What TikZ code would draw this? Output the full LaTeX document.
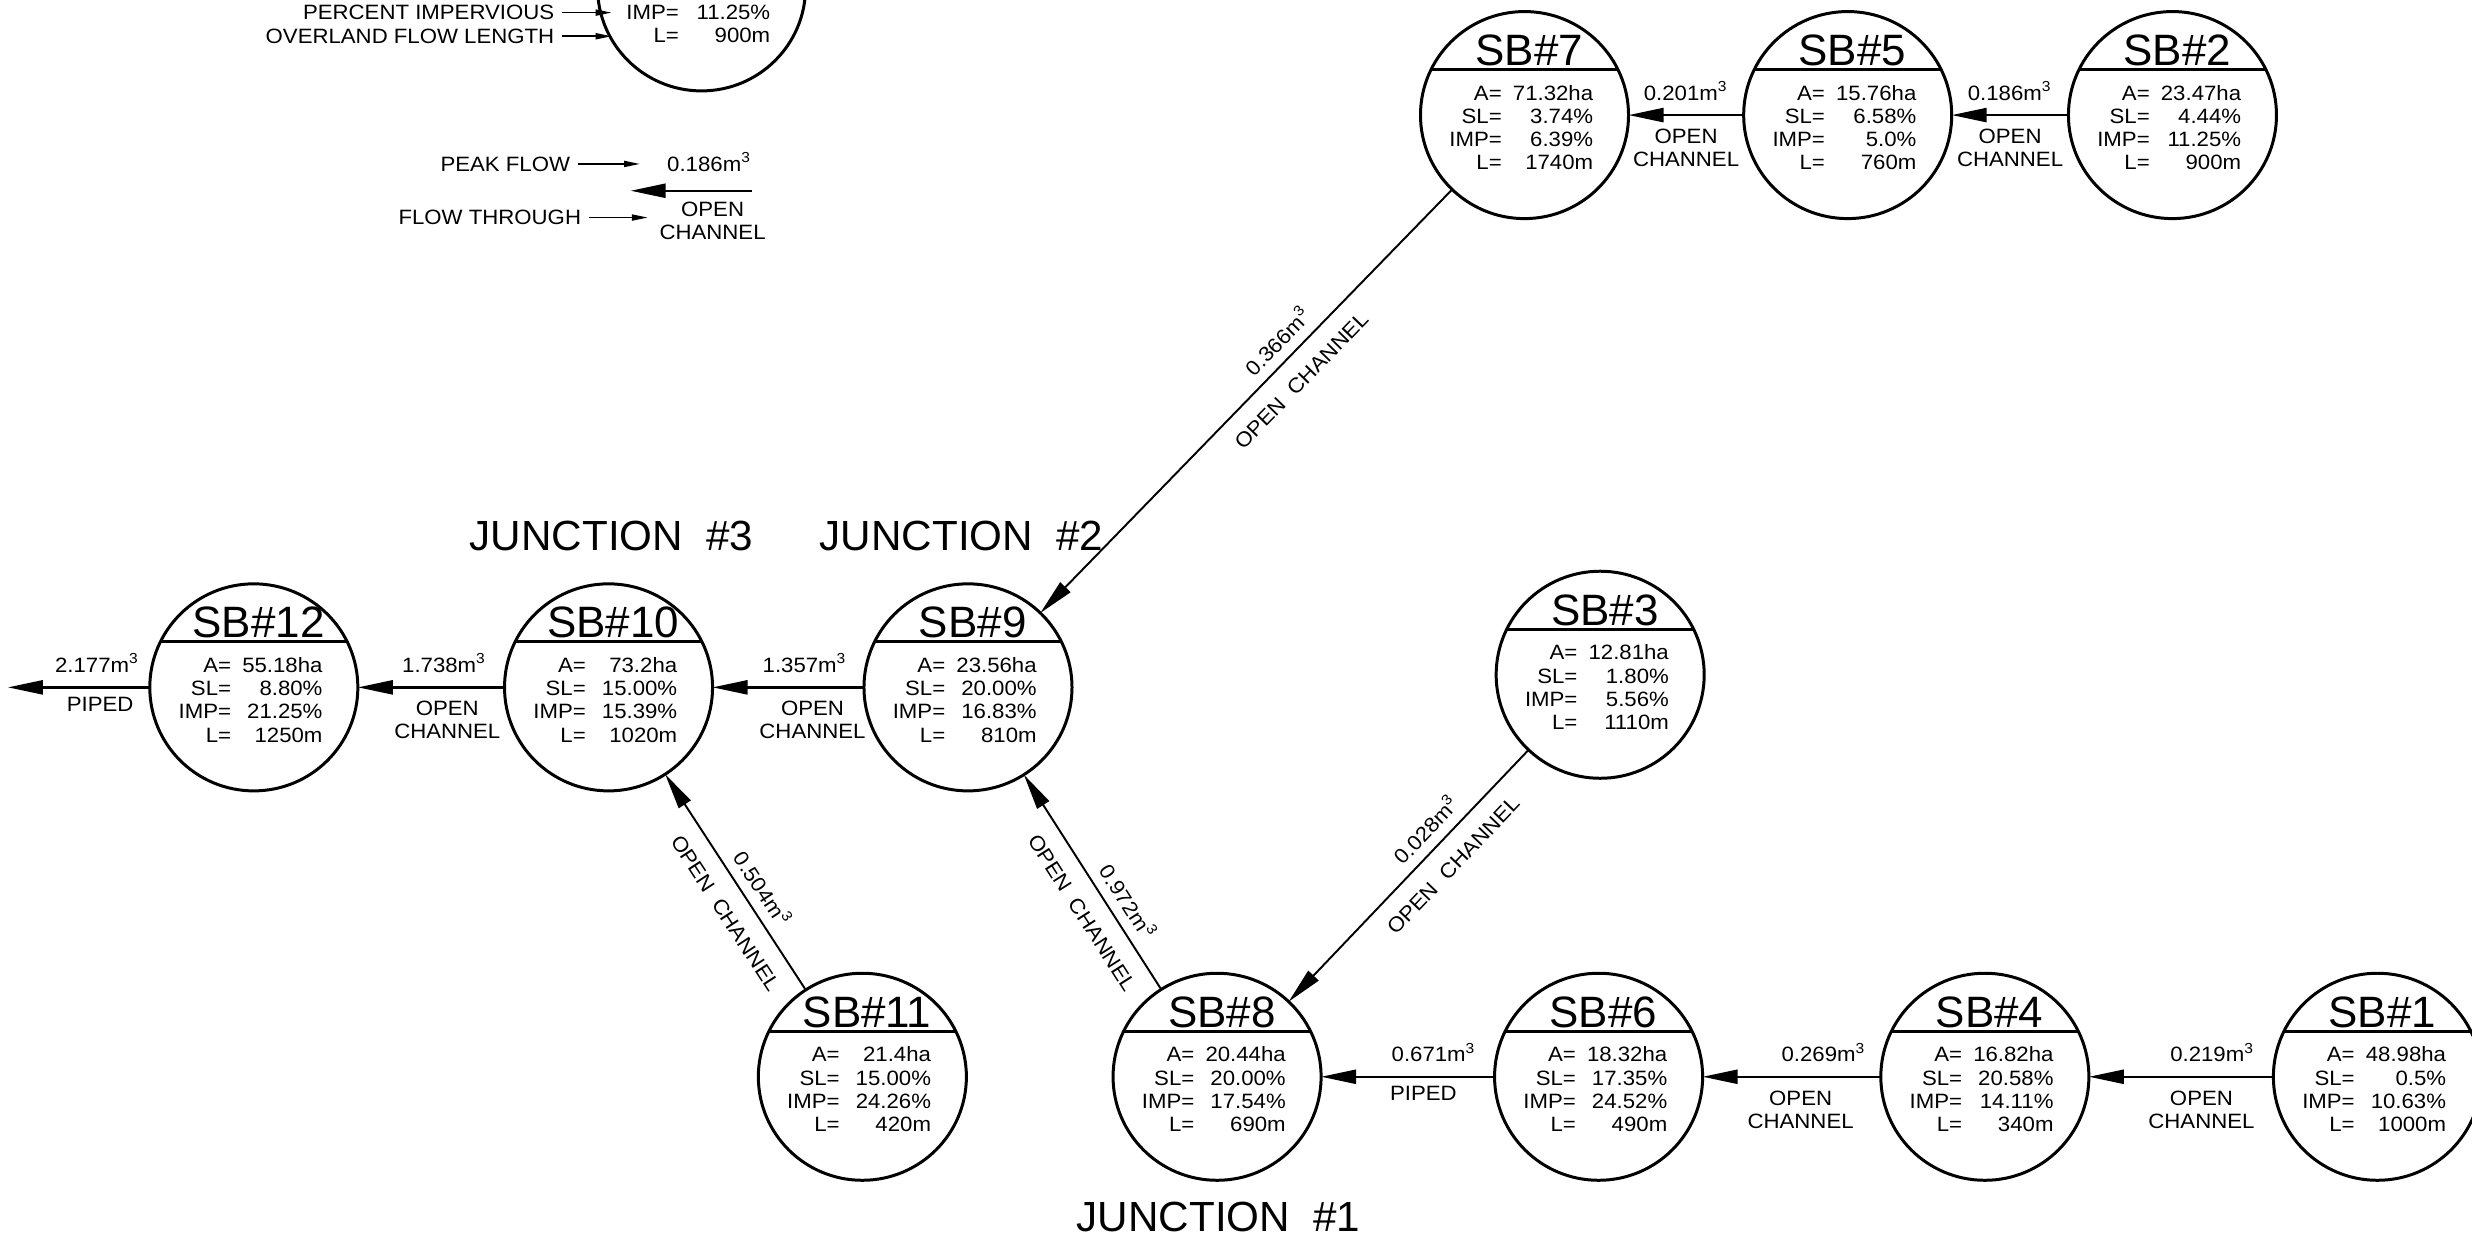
\documentclass[tikz,border=0pt]{standalone}
\usepackage{fontspec}
\setmainfont{Liberation Sans}
\newfontfamily\cadsmall{Liberation Sans}[FakeStretch=1.07]
\usetikzlibrary{arrows.meta,shapes.geometric}
\newcommand{\mcube}{\textsuperscript{3}}
\newcommand{\dval}[1]{\makebox[0.914cm][r]{#1}}
\newcommand{\sbnode}[8]{%
  \node[sb] (#1) at (#2,#3) {};
  \node[sbtitle] (#1-t) at ({#2+3},{#3-41}) {#4};
  \draw[divider] (#1.154) -- (#1.26);
  \node[sbdata] (#1-d) at ({#2+44},{#3+8}) {A=\dval{#5}\\SL=\dval{#6}\\IMP=\dval{#7}\\L=\dval{#8}};
}
\tikzset{
  sb/.style={draw, ellipse, minimum width=2.08cm, minimum height=2.07cm, inner sep=0pt, outer sep=0pt, line width=0.85pt},
  sbtitle/.style={inner sep=0pt, font=\fontsize{12.5}{14}\selectfont},
  sbdata/.style={inner sep=0pt, anchor=east, align=right, font=\cadsmall\fontsize{5.9}{6.6}\selectfont},
  divider/.style={line width=0.9pt},
  lbl/.style={inner sep=0pt, font=\cadsmall\fontsize{5.9}{6.6}\selectfont},
  junc/.style={inner sep=0pt, font=\fontsize{12}{14}\selectfont},
  flow/.style={line width=0.7pt, -{Triangle[length=3.5mm,width=1.4mm]}},
  flowd/.style={line width=0.55pt, -{Triangle[length=3.6mm,width=1.4mm]}},
  leader/.style={line width=0.5pt, -{Triangle[length=1.6mm,width=0.6mm]}}
}
\begin{document}
\begin{tikzpicture}[x=0.015765cm, y=-0.015765cm]
\useasboundingbox (0,0) rectangle (1568,789);
\clip (0,0) rectangle (1568,789);

% legend
\node[sb] (leg) at (445,-8) {};
\node[sbdata] (leg-d) at (489,15) {IMP=\dval{11.25\%}\\L=\dval{900m}};
\node[lbl, anchor=east] (lpi) at (352,8) {PERCENT IMPERVIOUS};
\coordinate (lpi-t) at (388,8);
\draw[leader, shorten <=2pt] (lpi) -- (lpi-t);
\node[lbl, anchor=east] (lol) at (352,23) {OVERLAND FLOW LENGTH};
\coordinate (lol-t) at (388,23);
\draw[leader, shorten <=2pt] (lol) -- (lol-t);

\node[lbl, anchor=east] (lpf) at (362,104) {PEAK FLOW};
\node[lbl] (lv) at (450,103) {0.186m\mcube};
\coordinate (lpf-t) at (406,104);
\draw[leader, shorten <=2pt] (lpf) -- (lpf-t);
\coordinate (lga) at (477,121);
\coordinate (lgb) at (400,121);
\draw[flow] (lga) -- (lgb);
\node[lbl, align=center] (loc) at (452,140) {OPEN\\CHANNEL};
\node[lbl, anchor=east] (lft) at (369,138) {FLOW THROUGH};
\coordinate (lft-t) at (411,138);
\draw[leader, shorten <=2pt] (lft) -- (lft-t);

% sub-basins
\sbnode{sb7}{967}{73}{SB\#7}{71.32ha}{3.74\%}{6.39\%}{1740m}
\sbnode{sb5}{1172}{73}{SB\#5}{15.76ha}{6.58\%}{5.0\%}{760m}
\sbnode{sb2}{1378}{73}{SB\#2}{23.47ha}{4.44\%}{11.25\%}{900m}
\sbnode{sb12}{161}{436}{SB\#12}{55.18ha}{8.80\%}{21.25\%}{1250m}
\sbnode{sb10}{386}{436}{SB\#10}{73.2ha}{15.00\%}{15.39\%}{1020m}
\sbnode{sb9}{614}{436}{SB\#9}{23.56ha}{20.00\%}{16.83\%}{810m}
\sbnode{sb3}{1015}{428}{SB\#3}{12.81ha}{1.80\%}{5.56\%}{1110m}
\sbnode{sb11}{547}{683}{SB\#11}{21.4ha}{15.00\%}{24.26\%}{420m}
\sbnode{sb8}{772}{683}{SB\#8}{20.44ha}{20.00\%}{17.54\%}{690m}
\sbnode{sb6}{1014}{683}{SB\#6}{18.32ha}{17.35\%}{24.52\%}{490m}
\sbnode{sb4}{1259}{683}{SB\#4}{16.82ha}{20.58\%}{14.11\%}{340m}
\sbnode{sb1}{1508}{683}{SB\#1}{48.98ha}{0.5\%}{10.63\%}{1000m}

% junction labels
\node[junc] (j3) at (388,340) {JUNCTION~~\#3};
\node[junc] (j2) at (610,340) {JUNCTION~~\#2};
\node[junc] (j1) at (773,772) {JUNCTION~~\#1};

% connectors
\coordinate (outlet) at (5,436);
\draw[flow] (sb2) -- (sb5)
  node[lbl, pos=0.5, above=3.8pt] {0.186m\mcube}
  node[lbl, pos=0.5, below=3.6pt, align=center] {OPEN\\CHANNEL};
\draw[flow] (sb5) -- (sb7)
  node[lbl, pos=0.5, above=3.8pt] {0.201m\mcube}
  node[lbl, pos=0.5, below=3.6pt, align=center] {OPEN\\CHANNEL};
\draw[flowd] (sb7) -- (sb9)
  node[lbl, sloped, pos=0.39, above=2.8pt] {0.366m\mcube}
  node[lbl, sloped, pos=0.41, below=4.8pt] {OPEN~~CHANNEL};
\draw[flow] (sb9) -- (sb10)
  node[lbl, pos=0.39, above=3.8pt] {1.357m\mcube}
  node[lbl, pos=0.34, below=3.6pt, align=center] {OPEN\\CHANNEL};
\draw[flow] (sb10) -- (sb12)
  node[lbl, pos=0.41, above=3.8pt] {1.738m\mcube}
  node[lbl, pos=0.39, below=3.6pt, align=center] {OPEN\\CHANNEL};
\draw[flow] (sb12) -- (outlet)
  node[lbl, pos=0.37, above=3.8pt] {2.177m\mcube}
  node[lbl, pos=0.35, below=2.4pt] {PIPED};
\draw[flowd] (sb11) -- (sb10)
  node[lbl, sloped, pos=0.42, above=2.8pt] {0.504m\mcube}
  node[lbl, sloped, pos=0.42, below=4.8pt] {OPEN~~CHANNEL};
\draw[flowd] (sb8) -- (sb9)
  node[lbl, sloped, pos=0.36, above=2.8pt] {0.972m\mcube}
  node[lbl, sloped, pos=0.42, below=4.8pt] {OPEN~~CHANNEL};
\draw[flowd] (sb3) -- (sb8)
  node[lbl, sloped, pos=0.37, above=2.8pt] {0.028m\mcube}
  node[lbl, sloped, pos=0.39, below=4.8pt] {OPEN~~CHANNEL};
\draw[flow] (sb6) -- (sb8)
  node[lbl, pos=0.35, above=3.8pt] {0.671m\mcube}
  node[lbl, pos=0.41, below=2.4pt] {PIPED};
\draw[flow] (sb4) -- (sb6)
  node[lbl, pos=0.32, above=3.8pt] {0.269m\mcube}
  node[lbl, pos=0.45, below=3.6pt, align=center] {OPEN\\CHANNEL};
\draw[flow] (sb1) -- (sb4)
  node[lbl, pos=0.33, above=3.8pt] {0.219m\mcube}
  node[lbl, pos=0.39, below=3.6pt, align=center] {OPEN\\CHANNEL};
\end{tikzpicture}
\end{document}
